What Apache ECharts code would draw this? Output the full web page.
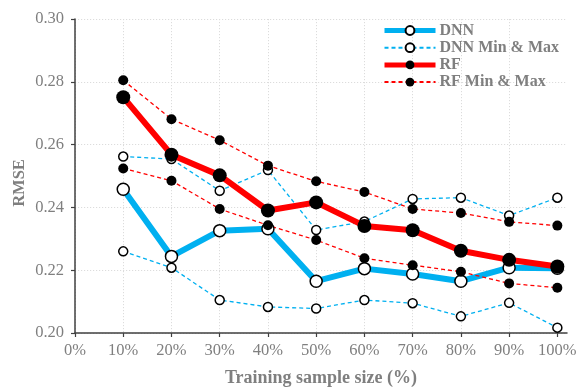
<!DOCTYPE html>
<html>
<head>
<meta charset="utf-8">
<script src="https://cdn.jsdelivr.net/npm/echarts@6/dist/echarts.min.js"></script>
<style>
  html, body { margin: 0; padding: 0; background: #fff; }
  #chart { width: 576px; height: 389px; }
</style>
</head>
<body>
<div id="chart"></div>
<script>
// Training sample size (%)
const sampleSizes = [10, 20, 30, 40, 50, 60, 70, 80, 90, 100];
const xTicks = [0, 10, 20, 30, 40, 50, 60, 70, 80, 90, 100];

// RMSE values
const dnnMean = [0.2458, 0.2244, 0.2326, 0.2332, 0.2165, 0.2205, 0.2188, 0.2165, 0.2208, 0.2206];
const dnnMax  = [0.2562, 0.2554, 0.2453, 0.2519, 0.2328, 0.2355, 0.2427, 0.2431, 0.2374, 0.2431];
const dnnMin  = [0.2260, 0.2208, 0.2105, 0.2083, 0.2078, 0.2105, 0.2095, 0.2053, 0.2096, 0.2017];
const rfMean  = [0.2751, 0.2568, 0.2502, 0.2390, 0.2416, 0.2341, 0.2327, 0.2262, 0.2233, 0.2212];
const rfMax   = [0.2805, 0.2681, 0.2614, 0.2533, 0.2483, 0.2449, 0.2395, 0.2382, 0.2354, 0.2342];
const rfMin   = [0.2524, 0.2485, 0.2395, 0.2343, 0.2296, 0.2238, 0.2216, 0.2195, 0.2158, 0.2144];

const pairs = (vals) => sampleSizes.map((x, i) => [x, vals[i]]);

const BLUE = '#00b0f0';
const RED = '#ff0000';
const GREY = '#7f7f7f';
const FONT = 'Liberation Serif';

const openMarker = { color: '#ffffff', borderColor: '#000000', borderWidth: 1.5 };
const solidMarker = { color: '#000000', borderColor: '#000000', borderWidth: 0 };

function series(name, vals, color, width, dashed, marker, size) {
  return {
    name: name,
    type: 'line',
    data: pairs(vals),
    symbol: 'circle',
    symbolSize: size,
    showAllSymbol: true,
    lineStyle: { color: color, width: width, type: dashed ? [4, 3] : 'solid' },
    itemStyle: marker,
    emphasis: { disabled: true },
    animation: false
  };
}

const chart = echarts.init(document.getElementById('chart'), null, { renderer: 'canvas' });
chart.setOption({
  backgroundColor: '#ffffff',
  animation: false,
  grid: { left: 75, right: 9, top: 19, bottom: 56, containLabel: false, outerBoundsMode: 'none' },
  legend: {
    orient: 'vertical',
    left: 382,
    top: 22,
    padding: 0,
    itemWidth: 51,
    itemHeight: 11,
    itemGap: 0.2,
    data: [
      { name: 'DNN', lineStyle: { width: 5 } },
      { name: 'DNN Min & Max' },
      { name: 'RF', lineStyle: { width: 5 } },
      { name: 'RF Min & Max' }
    ],
    textStyle: { fontFamily: FONT, fontSize: 16, fontWeight: 'bold', color: GREY, lineHeight: 17, padding: [0, 0, 0, -1] },
    selectedMode: false
  },
  xAxis: {
    type: 'value',
    min: 0,
    max: 102,
    interval: 10,
    name: 'Training sample size (%)',
    nameLocation: 'middle',
    nameGap: 36,
    nameMoveOverlap: false,
    nameTextStyle: { fontFamily: FONT, fontSize: 18, fontWeight: 'bold', color: GREY },
    axisLine: { show: true, lineStyle: { color: '#404040', width: 1.5 } },
    axisTick: { show: true, length: 4, customValues: xTicks, lineStyle: { color: '#404040', width: 1.2 } },
    axisLabel: { customValues: xTicks, formatter: '{value}%', fontFamily: FONT, fontSize: 16.5, color: GREY, margin: 9 },
    splitLine: { show: true, showMaxLine: false, lineStyle: { color: '#dcdcdc', type: [1.2, 1.8], width: 1 } }
  },
  yAxis: {
    type: 'value',
    min: 0.2,
    max: 0.3,
    interval: 0.02,
    name: 'RMSE',
    nameLocation: 'middle',
    nameGap: 47,
    nameMoveOverlap: false,
    nameTextStyle: { fontFamily: FONT, fontSize: 16.5, fontWeight: 'bold', color: GREY, padding: [0, 14, 0, 0] },
    axisLine: { show: true, lineStyle: { color: '#404040', width: 1.5 } },
    axisTick: { show: true, length: 4, lineStyle: { color: '#404040', width: 1.2 } },
    axisLabel: { formatter: (v) => v.toFixed(2), fontFamily: FONT, fontSize: 16.5, color: GREY, margin: 11 },
    splitLine: { show: true, lineStyle: { color: '#dcdcdc', type: [1.2, 1.8], width: 1 } }
  },
  series: [
    series('DNN Min & Max', dnnMax, BLUE, 1.3, true, openMarker, 9),
    series('DNN Min & Max', dnnMin, BLUE, 1.3, true, openMarker, 9),
    series('DNN', dnnMean, BLUE, 6, false, openMarker, 12),
    series('RF Min & Max', rfMax, RED, 1.3, true, solidMarker, 10),
    series('RF Min & Max', rfMin, RED, 1.3, true, solidMarker, 10),
    series('RF', rfMean, RED, 6, false, solidMarker, 14)
  ]
});
</script>
</body>
</html>
